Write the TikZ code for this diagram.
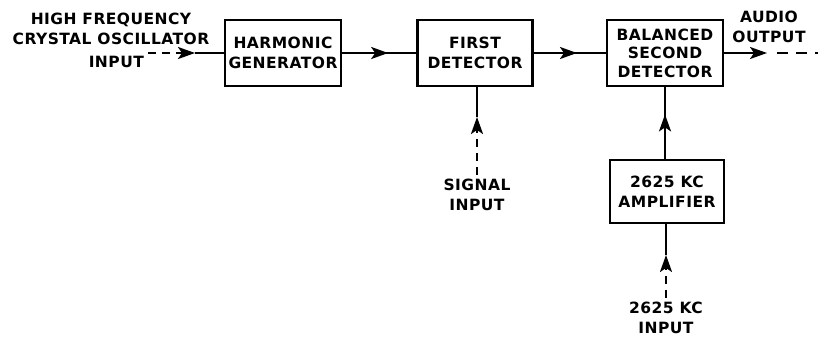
\documentclass[tikz,border=0pt]{standalone}
\usepackage{fontspec}
\setmainfont{DejaVu Sans}[UprightFont=*, BoldFont=* Bold, LetterSpace=3]
\usetikzlibrary{arrows.meta,decorations.markings}

\begin{document}
\begin{tikzpicture}[
    x=1pt, y=-1pt,
    line width=2.2pt,
    font=\fontsize{15.5}{20.5}\selectfont\bfseries,
    block/.style={draw, rectangle, align=center, inner sep=0pt,
        minimum width=116pt, minimum height=66pt},
    lbl/.style={align=center, inner sep=0pt},
    tip/.style={-{Stealth[length=17pt,width=12pt,inset=4pt]}},
    midtip/.style={postaction={decorate}, decoration={markings,
        mark=at position #1 with {\arrow{Stealth[length=17pt,width=12pt,inset=4pt]}}}},
    feed/.style={dash pattern=on 8pt off 6pt}
]
\useasboundingbox (0,0) rectangle (818,338);

% Blocks
\node[block] (harm) at (283,53) {HARMONIC\\GENERATOR};
\node[block, minimum width=115pt] (det1) at (475,53) {FIRST\\DETECTOR};
\node[block, font=\fontsize{15.5}{18.5}\selectfont\bfseries] (det2) at (665,53) {BALANCED\\SECOND\\DETECTOR};
\node[block, minimum width=114pt, minimum height=63pt] (amp) at (667,191.5) {2625 KC\\AMPLIFIER};

% Inputs and output
\node[lbl] (hfname) at (111,29) {HIGH FREQUENCY\\CRYSTAL OSCILLATOR};
\node[lbl, anchor=base east] (hfin) at (145,67) {INPUT};
\node[lbl] (sigin) at (477,195) {SIGNAL\\INPUT};
\node[lbl] (kcin) at (666,318) {2625 KC\\INPUT};
\node[lbl] (audio) at (769,27) {AUDIO\\OUTPUT};

\coordinate (hfstart) at (148,53);
\coordinate (hftip) at (195,53);
\coordinate (sigtip) at (477,117);
\coordinate (kctip) at (666,255);
\coordinate (outtip) at (767,53);
\coordinate (outend) at (818,53);

% Signal path
\draw[feed, tip] (hfstart) -- (hftip);
\draw (hftip) -- (harm.west);
\draw[midtip=0.62] (harm.east) -- (det1.west);
\draw[midtip=0.6] (det1.east) -- (det2.west);
\draw[tip] (det2.east) -- (outtip);
\draw[dash pattern=on 11pt off 8pt] ([xshift=10pt]outtip) -- (outend);

% Signal input
\draw[feed, tip] ([yshift=3pt]sigin.north) -- (sigtip);
\draw (sigtip) -- (sigtip |- det1.south);

% 2625 KC chain
\draw[feed, tip] ([yshift=3pt]kctip |- kcin.north) -- (kctip);
\draw (kctip) -- (kctip |- amp.south);
\draw[midtip=0.62] (amp.north -| det2.south) -- (det2.south);

\end{tikzpicture}
\end{document}
